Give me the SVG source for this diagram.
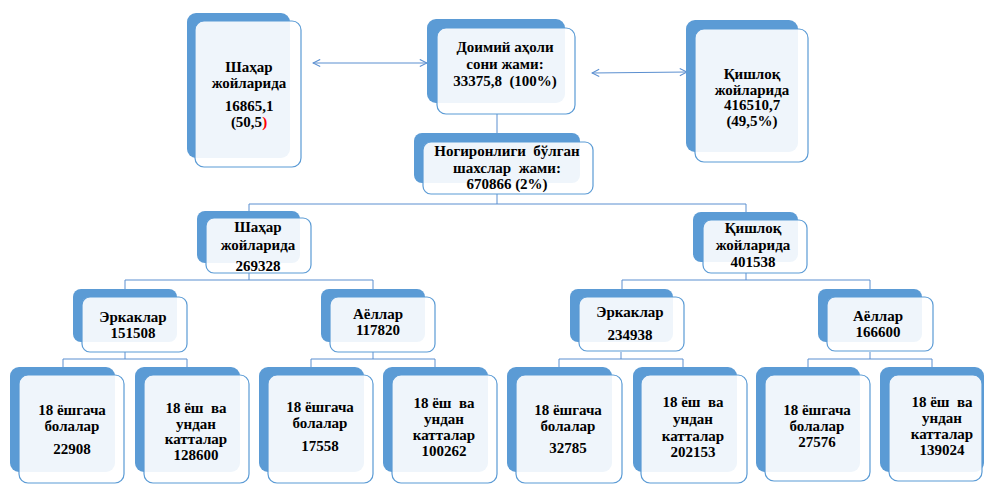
<svg xmlns="http://www.w3.org/2000/svg" width="984" height="487" viewBox="0 0 984 487">
<defs>
<style>
.bk{fill:#5b9bd5;}
.fr{fill:#ffffff;fill-opacity:0.9;stroke:#5b9bd5;stroke-width:1.2;}
.c{fill:none;stroke:#5b8fd0;stroke-width:1;}
.t text{text-anchor:middle;white-space:pre;}
</style>
<marker id="ah" viewBox="0 0 10 10" refX="9" refY="5" markerWidth="9" markerHeight="9" orient="auto-start-reverse" markerUnits="userSpaceOnUse">
<path d="M1,1 L9,5 L1,9" fill="none" stroke="#5b8fd0" stroke-width="1.2"/>
</marker>
</defs>
<rect width="984" height="487" fill="#ffffff"/>
<g id="connectors">
<line class="c" x1="313" y1="63" x2="427" y2="63" marker-start="url(#ah)" marker-end="url(#ah)"/>
<line class="c" x1="592" y1="73" x2="687" y2="72" marker-start="url(#ah)" marker-end="url(#ah)"/>
<path class="c" d="M497,114 V142"/>
<path class="c" d="M497,194 V204 M249,204 H746 M249,204 V218 M746,204 V220"/>
<path class="c" d="M249,273 V280 M125,280 H373 M125,280 V297 M373,280 V297"/>
<path class="c" d="M746,273 V280 M622,280 H870 M622,280 V297 M870,280 V297"/>
<path class="c" d="M125,352 V359 M63,359 H187 M63,359 V375 M187,359 V375"/>
<path class="c" d="M373,352 V359 M311,359 H435 M311,359 V375 M435,359 V375"/>
<path class="c" d="M621,352 V359 M559,359 H683 M559,359 V375 M683,359 V375"/>
<path class="c" d="M870,352 V359 M808,359 H932 M808,359 V375 M932,359 V375"/>
</g>
<g class="t" font-family="'Liberation Serif', 'Times New Roman', 'DejaVu Serif', serif" font-weight="bold" font-size="15" fill="#000000">
<g id="n-shahar-top">
<rect class="bk" x="187" y="13" width="103" height="145" rx="9"/>
<rect class="fr" x="195" y="21" width="106" height="146" rx="9"/>
<text x="249" y="72">Шаҳар</text>
<text x="249" y="88">жойларида</text>
<text x="249" y="111">16865,1</text>
<text x="249" y="127">(50,5<tspan fill="#ff0000">)</tspan></text>
</g>
<g id="n-doimiy">
<rect class="bk" x="427" y="19" width="138" height="84" rx="9"/>
<rect class="fr" x="437" y="28" width="138" height="86" rx="9"/>
<text x="505" y="52">Доимий аҳоли</text>
<text x="505" y="69">сони жами:</text>
<text x="505" y="86">33375,8  (100%)</text>
</g>
<g id="n-qishloq-top">
<rect class="bk" x="686" y="20" width="112" height="132" rx="9"/>
<rect class="fr" x="695" y="29" width="113" height="133" rx="9"/>
<text x="752" y="79">Қишлоқ</text>
<text x="752" y="95">жойларида</text>
<text x="752" y="110">416510,7</text>
<text x="752" y="126">(49,5%)</text>
</g>
<g id="n-nogironligi">
<rect class="bk" x="414" y="133" width="166" height="50" rx="8"/>
<rect class="fr" x="423" y="142" width="170" height="52" rx="8"/>
<text x="507" y="156">Ногиронлиги  бўлган</text>
<text x="507" y="173">шахслар  жами:</text>
<text x="507" y="189">670866 (2%)</text>
</g>
<g id="n-shahar">
<rect class="bk" x="197" y="211" width="103" height="52" rx="8"/>
<rect class="fr" x="206" y="218" width="105" height="55" rx="8"/>
<text x="258" y="232">Шаҳар</text>
<text x="258" y="250">жойларида</text>
<text x="258" y="271">269328</text>
</g>
<g id="n-qishloq">
<rect class="bk" x="693" y="212" width="105" height="50" rx="8"/>
<rect class="fr" x="703" y="220" width="104" height="53" rx="8"/>
<text x="753" y="233">Қишлоқ</text>
<text x="753" y="250">жойларида</text>
<text x="753" y="267">401538</text>
</g>
<g id="n-erkak1">
<rect class="bk" x="73" y="289" width="104" height="53" rx="8"/>
<rect class="fr" x="82" y="297" width="105" height="55" rx="8"/>
<text x="133" y="322">Эркаклар</text>
<text x="133" y="338">151508</text>
</g>
<g id="n-ayol1">
<rect class="bk" x="321" y="289" width="104" height="53" rx="8"/>
<rect class="fr" x="330" y="297" width="105" height="55" rx="8"/>
<text x="378" y="319">Аёллар</text>
<text x="378" y="335">117820</text>
</g>
<g id="n-erkak2">
<rect class="bk" x="570" y="289" width="103" height="53" rx="8"/>
<rect class="fr" x="579" y="297" width="105" height="54" rx="8"/>
<text x="630" y="317">Эркаклар</text>
<text x="630" y="340">234938</text>
</g>
<g id="n-ayol2">
<rect class="bk" x="818" y="289" width="104" height="53" rx="8"/>
<rect class="fr" x="827" y="297" width="106" height="54" rx="8"/>
<text x="878" y="321">Аёллар</text>
<text x="878" y="337">166600</text>
</g>
<g id="n-b1">
<rect class="bk" x="10" y="367" width="105" height="105" rx="9"/>
<rect class="fr" x="19" y="375" width="105" height="108" rx="9"/>
<text x="72" y="415">18 ёшгача</text>
<text x="72" y="431">болалар</text>
<text x="72" y="454">22908</text>
</g>
<g id="n-b2">
<rect class="bk" x="135" y="367" width="105" height="105" rx="9"/>
<rect class="fr" x="144" y="375" width="105" height="108" rx="9"/>
<text x="196" y="413">18 ёш  ва</text>
<text x="196" y="429">ундан</text>
<text x="196" y="444">катталар</text>
<text x="196" y="460">128600</text>
</g>
<g id="n-b3">
<rect class="bk" x="259" y="367" width="105" height="105" rx="9"/>
<rect class="fr" x="268" y="375" width="105" height="108" rx="9"/>
<text x="320" y="412">18 ёшгача</text>
<text x="320" y="428">болалар</text>
<text x="320" y="451">17558</text>
</g>
<g id="n-b4">
<rect class="bk" x="383" y="367" width="105" height="105" rx="9"/>
<rect class="fr" x="392" y="375" width="105" height="108" rx="9"/>
<text x="444" y="408">18 ёш  ва</text>
<text x="444" y="424">ундан</text>
<text x="444" y="440">катталар</text>
<text x="444" y="456">100262</text>
</g>
<g id="n-b5">
<rect class="bk" x="507" y="367" width="105" height="105" rx="9"/>
<rect class="fr" x="516" y="375" width="106" height="108" rx="9"/>
<text x="568" y="415">18 ёшгача</text>
<text x="568" y="431">болалар</text>
<text x="568" y="453">32785</text>
</g>
<g id="n-b6">
<rect class="bk" x="633" y="367" width="104" height="105" rx="9"/>
<rect class="fr" x="641" y="375" width="106" height="108" rx="9"/>
<text x="693" y="407">18 ёш  ва</text>
<text x="693" y="424">ундан</text>
<text x="693" y="441">катталар</text>
<text x="693" y="457">202153</text>
</g>
<g id="n-b7">
<rect class="bk" x="756" y="367" width="104" height="105" rx="9"/>
<rect class="fr" x="765" y="375" width="105" height="106" rx="9"/>
<text x="817" y="415">18 ёшгача</text>
<text x="817" y="431">болалар</text>
<text x="817" y="447">27576</text>
</g>
<g id="n-b8">
<rect class="bk" x="880" y="367" width="104" height="105" rx="9"/>
<rect class="fr" x="889" y="375" width="93" height="106" rx="9"/>
<text x="942" y="407">18 ёш  ва</text>
<text x="942" y="423">ундан</text>
<text x="942" y="439">катталар</text>
<text x="942" y="455">139024</text>
</g>
</g>
</svg>
